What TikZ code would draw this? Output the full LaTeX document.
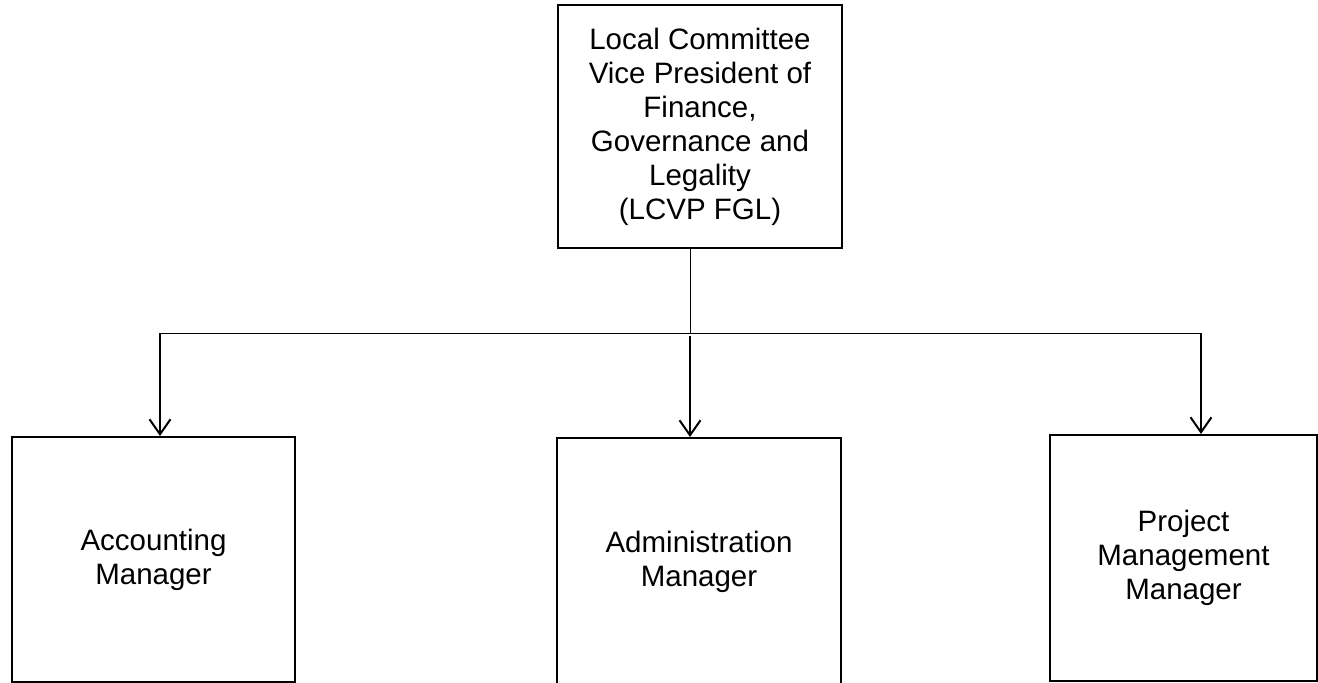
\documentclass[tikz,border=0pt]{standalone}
\usepackage{fontspec}
\setmainfont{Liberation Sans}
\usetikzlibrary{arrows.meta}
\begin{document}
\begin{tikzpicture}[x=1pt,y=-1pt,
  orgbox/.style={draw=black, line width=2pt, rectangle, align=center, inner sep=0pt,
    font=\fontsize{29.5}{34}\selectfont},
  thinline/.style={line width=0.9pt},
  downarrow/.style={line width=2pt, -{Straight Barb[length=15pt,width=21pt,line width=2pt]}}]
\useasboundingbox[fill=white] (0,0) rectangle (1318,683);
\node[orgbox, minimum width=284pt, minimum height=243pt] (top) at (700,126.5)
  {Local Committee\\Vice President of\\Finance,\\Governance and\\Legality\\(LCVP FGL)};
\node[orgbox, minimum width=283pt, minimum height=245pt] (acc) at (153.5,559.5)
  {Accounting\\Manager};
\node[orgbox, minimum width=284pt, minimum height=248pt] (adm) at (699,562)
  {Administration\\Manager};
\node[orgbox, minimum width=267pt, minimum height=246pt] (pm) at (1183.5,558)
  {Project\\Management\\Manager};
\coordinate (j) at (690,333);
\coordinate (jl) at (160,333);
\coordinate (jr) at (1201,333);
\draw[thinline] (j |- top.south) -- (j);
\draw[thinline] (jl) -- (jr);
\draw[downarrow] ([yshift=0.5pt]jl) -- (jl |- acc.north);
\draw[downarrow] ([yshift=-3pt]j) -- (j |- adm.north);
\draw[downarrow] ([yshift=0.5pt]jr) -- (jr |- pm.north);
\end{tikzpicture}
\end{document}
